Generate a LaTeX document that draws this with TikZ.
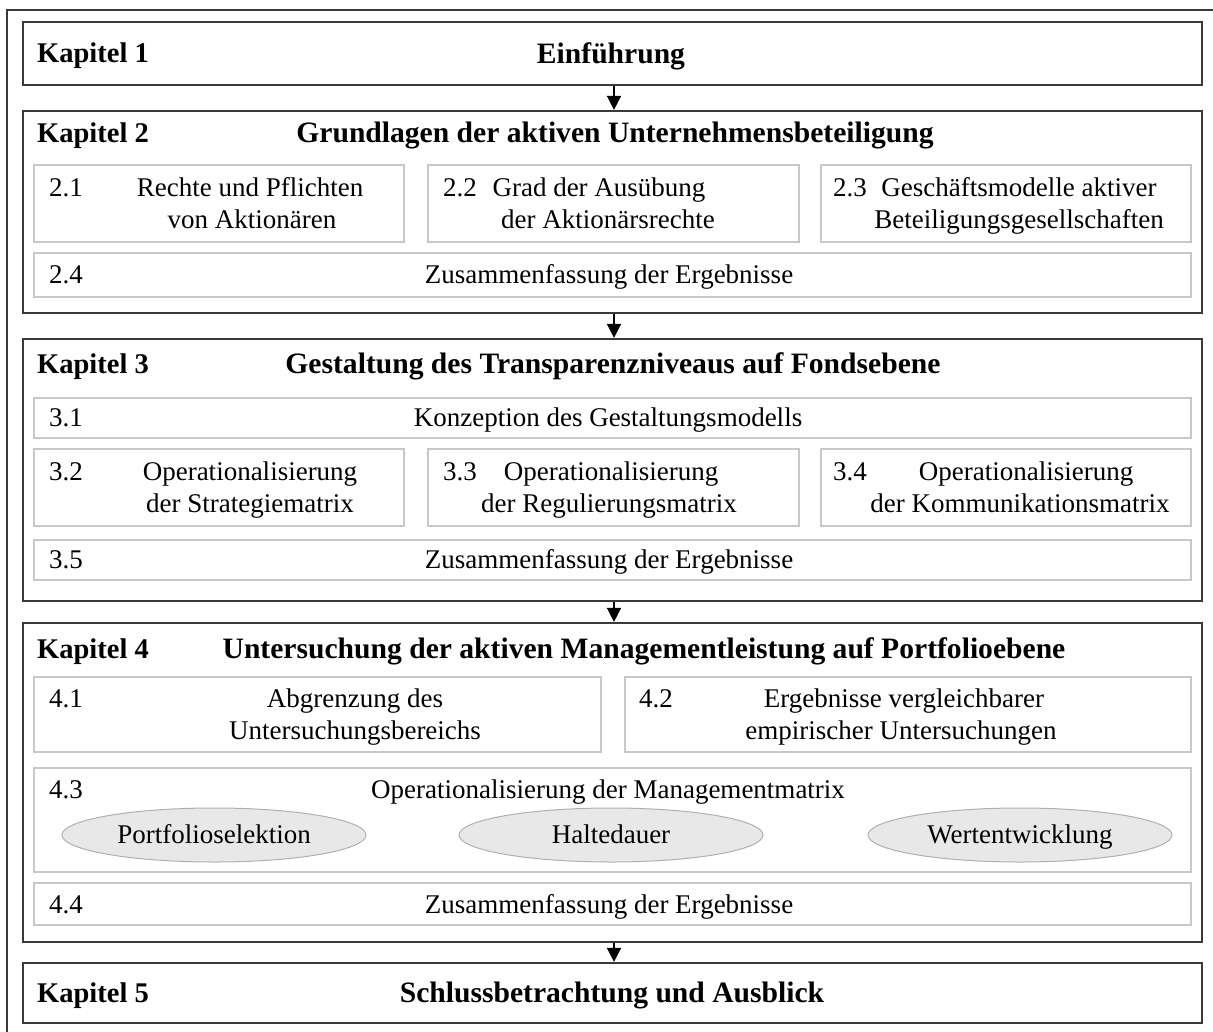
\documentclass[tikz,border=0pt]{standalone}
\usepackage{fontspec}
\setmainfont{Liberation Serif}
\usetikzlibrary{arrows.meta,shapes.geometric}
\definecolor{chapline}{HTML}{3A3A3A}
\definecolor{subline}{HTML}{C8C8C8}
\definecolor{ovalfill}{HTML}{E8E8E8}
\definecolor{ovalline}{HTML}{B0B0B0}
\newcommand{\regfont}{\fontsize{27}{32}\selectfont}
\newcommand{\boldfont}{\bfseries\fontsize{28.5}{34}\selectfont}
\newcommand{\titlefont}{\bfseries\fontsize{29.6}{34}\selectfont}
\begin{document}
\begin{tikzpicture}[x=1pt,y=-1pt,
  chapbox/.style={draw=chapline,line width=2.2pt,minimum width=1179pt,inner sep=0pt},
  subbox/.style={draw=subline,line width=2pt,inner sep=0pt},
  oval/.style={ellipse,draw=ovalline,fill=ovalfill,line width=1pt,minimum width=304pt,
    minimum height=54pt,inner sep=0pt,font=\regfont,text height=17.8pt,text depth=0pt},
  chaplabel/.style={anchor=west,inner sep=0pt,font=\boldfont,text height=18.9pt,text depth=0pt},
  chaptitle/.style={inner sep=0pt,font=\titlefont,text height=19.4pt,text depth=0pt},
  num/.style={anchor=west,inner sep=0pt,font=\regfont,text height=17.8pt,text depth=0pt},
  txt/.style={inner sep=0pt,font=\regfont,text height=17.8pt,text depth=0pt},
  flow/.style={line width=1.5pt,-{Triangle[width=14pt,length=14pt]}}
]
\useasboundingbox (0,0) rectangle (1213,1031);

% outer frame (continues past the page edge)
\draw[chapline,line width=2pt] (7,1045) -- (7,10) -- (1225,10);

% chapter boxes
\node[chapbox,minimum height=63pt]  (k1) at (612.5,53.5) {};
\node[chapbox,minimum height=202pt] (k2) at (612.5,212) {};
\node[chapbox,minimum height=262pt] (k3) at (612.5,470) {};
\node[chapbox,minimum height=319pt] (k4) at (612.5,782.5) {};
\node[chapbox,minimum height=60pt]  (k5) at (612.5,993) {};

% flow between chapters
\draw[flow] ([xshift=1.5pt]k1.south) -- ([xshift=1.5pt]k2.north);
\draw[flow] ([xshift=1.5pt]k2.south) -- ([xshift=1.5pt]k3.north);
\draw[flow] ([xshift=1.5pt]k3.south) -- ([xshift=1.5pt]k4.north);
\draw[flow] ([xshift=1.5pt]k4.south) -- ([xshift=1.5pt]k5.north);

% chapter headings
\node[chaplabel] (l1) at (37,53.5) {Kapitel 1};
\node[chaptitle] (h1) at (611,53.5) {Einführung};
\node[chaplabel] (l2) at (37,132.6) {Kapitel 2};
\node[chaptitle] (h2) at (615,132.6) {Grundlagen der aktiven Unternehmensbeteiligung};
\node[chaplabel] (l3) at (37,364) {Kapitel 3};
\node[chaptitle] (h3) at (613,364) {Gestaltung des Transparenzniveaus auf Fondsebene};
\node[chaplabel] (l4) at (37,648.6) {Kapitel 4};
\node[chaptitle] (h4) at (644,648.6) {Untersuchung der aktiven Managementleistung auf Portfolioebene};
\node[chaplabel] (l5) at (37,993) {Kapitel 5};
\node[chaptitle] (h5) at (612,993) {Schlussbetrachtung und Ausblick};

% chapter 2 sections
\node[subbox,minimum width=370pt,minimum height=77pt]  (s21) at (219,203.5) {};
\node[subbox,minimum width=371pt,minimum height=77pt]  (s22) at (613.5,203.5) {};
\node[subbox,minimum width=370pt,minimum height=77pt]  (s23) at (1006,203.5) {};
\node[subbox,minimum width=1157pt,minimum height=44pt] (s24) at (612.5,275) {};
\node[num] (n21) at (49,187.5) {2.1};
\node[txt] (t21a) at (250,187.5) {Rechte und Pflichten};
\node[txt] (t21b) at (252,219.5) {von Aktionären};
\node[num] (n22) at (443,187.5) {2.2};
\node[txt] (t22a) at (599,187.5) {Grad der Ausübung};
\node[txt] (t22b) at (608,219.5) {der Aktionärsrechte};
\node[num] (n23) at (833,187.5) {2.3};
\node[txt] (t23a) at (1019,187.5) {Geschäftsmodelle aktiver};
\node[txt] (t23b) at (1019,219.5) {Beteiligungsgesellschaften};
\node[num] (n24) at (49,275) {2.4};
\node[txt] (t24) at (609,275) {Zusammenfassung der Ergebnisse};

% chapter 3 sections
\node[subbox,minimum width=1157pt,minimum height=40pt] (s31) at (612.5,418) {};
\node[subbox,minimum width=370pt,minimum height=77pt]  (s32) at (219,487.5) {};
\node[subbox,minimum width=371pt,minimum height=77pt]  (s33) at (613.5,487.5) {};
\node[subbox,minimum width=370pt,minimum height=77pt]  (s34) at (1006,487.5) {};
\node[subbox,minimum width=1157pt,minimum height=40pt] (s35) at (612.5,560) {};
\node[num] (n31) at (49,418) {3.1};
\node[txt] (t31) at (608,418) {Konzeption des Gestaltungsmodells};
\node[num] (n32) at (49,471.5) {3.2};
\node[txt] (t32a) at (250,471.5) {Operationalisierung};
\node[txt] (t32b) at (250,503.5) {der Strategiematrix};
\node[num] (n33) at (443,471.5) {3.3};
\node[txt] (t33a) at (611,471.5) {Operationalisierung};
\node[txt] (t33b) at (609,503.5) {der Regulierungsmatrix};
\node[num] (n34) at (833,471.5) {3.4};
\node[txt] (t34a) at (1026,471.5) {Operationalisierung};
\node[txt] (t34b) at (1020,503.5) {der Kommunikationsmatrix};
\node[num] (n35) at (49,560) {3.5};
\node[txt] (t35) at (609,560) {Zusammenfassung der Ergebnisse};

% chapter 4 sections
\node[subbox,minimum width=567pt,minimum height=75pt]   (s41) at (317.5,714.5) {};
\node[subbox,minimum width=566pt,minimum height=75pt]   (s42) at (908,714.5) {};
\node[subbox,minimum width=1157pt,minimum height=104pt] (s43) at (612.5,819.5) {};
\node[subbox,minimum width=1157pt,minimum height=42pt]  (s44) at (612.5,904) {};
\node[num] (n41) at (49,698.5) {4.1};
\node[txt] (t41a) at (355,698.5) {Abgrenzung des};
\node[txt] (t41b) at (355,730.5) {Untersuchungsbereichs};
\node[num] (n42) at (639,698.5) {4.2};
\node[txt] (t42a) at (904,698.5) {Ergebnisse vergleichbarer};
\node[txt] (t42b) at (901,730.5) {empirischer Untersuchungen};
\node[num] (n43) at (49,790) {4.3};
\node[txt] (t43) at (608,790) {Operationalisierung der Managementmatrix};
\node[oval] (o1) at (214,835) {Portfolioselektion};
\node[oval] (o2) at (611,835) {Haltedauer};
\node[oval] (o3) at (1020,835) {Wertentwicklung};
\node[num] (n44) at (49,904.5) {4.4};
\node[txt] (t44) at (609,904.5) {Zusammenfassung der Ergebnisse};
\end{tikzpicture}
\end{document}
